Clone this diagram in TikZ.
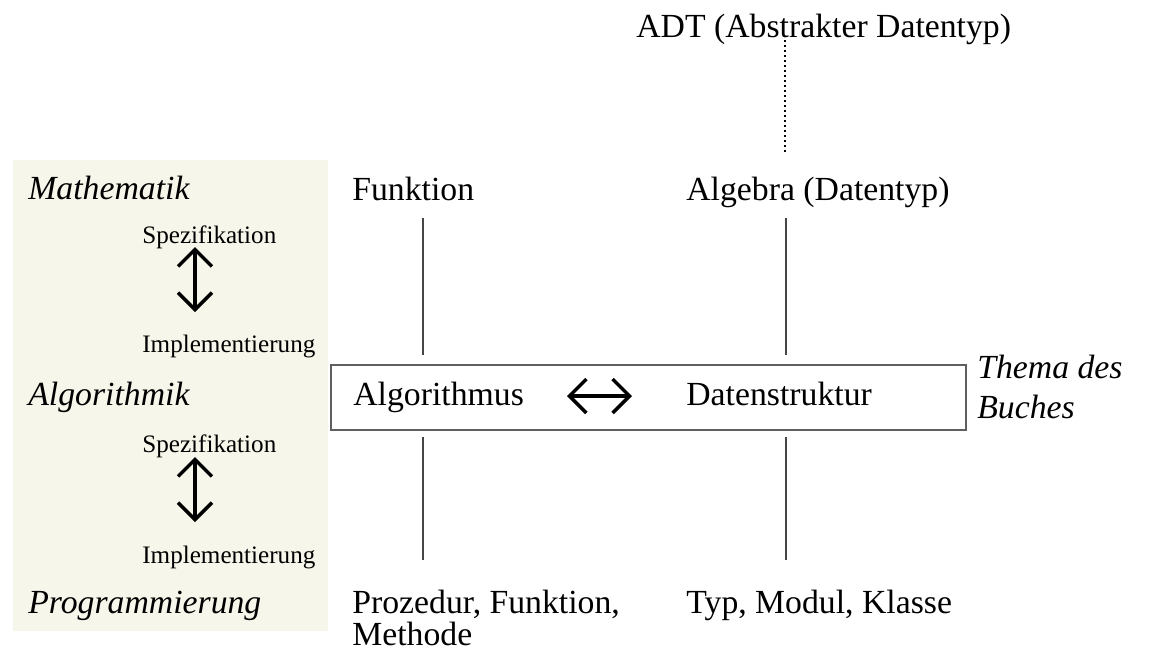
\documentclass[tikz,border=0pt]{standalone}
\usepackage{fontspec}
\setmainfont{Liberation Serif}
\usetikzlibrary{arrows.meta,positioning}
\definecolor{panelcolor}{RGB}{247,246,234}
\definecolor{linegray}{RGB}{70,70,70}
\definecolor{boxgray}{RGB}{95,95,95}

\tikzset{
  lbl/.style={anchor=base west, inner sep=0pt, font=\fontsize{19.2}{22}\selectfont},
  levellbl/.style={lbl, font=\fontsize{19.2}{22}\selectfont\itshape},
  smalllbl/.style={anchor=base west, inner sep=0pt, font=\fontsize{14.3}{16}\selectfont},
  updown/.style={{Straight Barb[length=0.34cm,width=0.68cm]}-{Straight Barb[length=0.34cm,width=0.68cm]}, line width=0.07cm},
  stem/.style={linegray, line width=0.03cm}
}

\begin{document}
\begin{tikzpicture}[x=0.02cm, y=-0.02cm]
    \useasboundingbox (0,0) rectangle (1158,654);

    % Panel with the levels
    \fill[panelcolor] (13,160) rectangle (328,631);
    \node[levellbl] (math) at (28,199) {Mathematik};
    \node[levellbl] (algk) at (28,405) {Algorithmik};
    \node[levellbl] (prog) at (28,613) {Programmierung};

    % Spezifikation / Implementierung
    \node[smalllbl] (spec1) at (142,243) {Spezifikation};
    \node[smalllbl] (impl1) at (142,352) {Implementierung};
    \node[smalllbl] (spec2) at (142,452) {Spezifikation};
    \node[smalllbl] (impl2) at (142,563) {Implementierung};
    \coordinate (a1) at (195,247);
    \coordinate (b1) at (195,312);
    \coordinate (a2) at (195,457);
    \coordinate (b2) at (195,522);
    \draw[updown] (a1) -- (b1);
    \draw[updown] (a2) -- (b2);

    % ADT on top
    \node[lbl] (adt) at (636,37) {ADT (Abstrakter Datentyp)};
    \coordinate (d1) at (785,40);
    \coordinate (d2) at (785,155);
    \draw[dotted, line width=0.03cm] (d1) -- (d2);

    % Mathematik row
    \node[lbl] (funk) at (352,200) {Funktion};
    \node[lbl] (alg) at (686,200) {Algebra (Datentyp)};

    % Thema des Buches
    \node[draw=boxgray, line width=0.04cm, minimum width=635*0.02cm, minimum height=65*0.02cm, anchor=north west, inner sep=0pt] (thema) at (330,364) {};
    \node[lbl] (algo) at (353,405) {Algorithmus};
    \node[lbl] (dats) at (686,405) {Datenstruktur};
    \coordinate (h1) at (567,396);
    \coordinate (h2) at (632,396);
    \draw[updown] (h1) -- (h2);
    \node[levellbl] (buch) at (977,378) {Thema des};
    \node[levellbl] (buch2) at (977,418) {Buches};

    % Programmierung row
    \node[lbl] (proz) at (352,613) {Prozedur, Funktion,};
    \node[lbl] (meth) at (352,645) {Methode};
    \node[lbl] (typ) at (686,613) {Typ, Modul, Klasse};

    % Vertical lines
    \foreach \x in {423,786} {
        \draw[stem] (\x,218) -- (\x,355);
        \draw[stem] (\x,437) -- (\x,560);
    }
\end{tikzpicture}
\end{document}
